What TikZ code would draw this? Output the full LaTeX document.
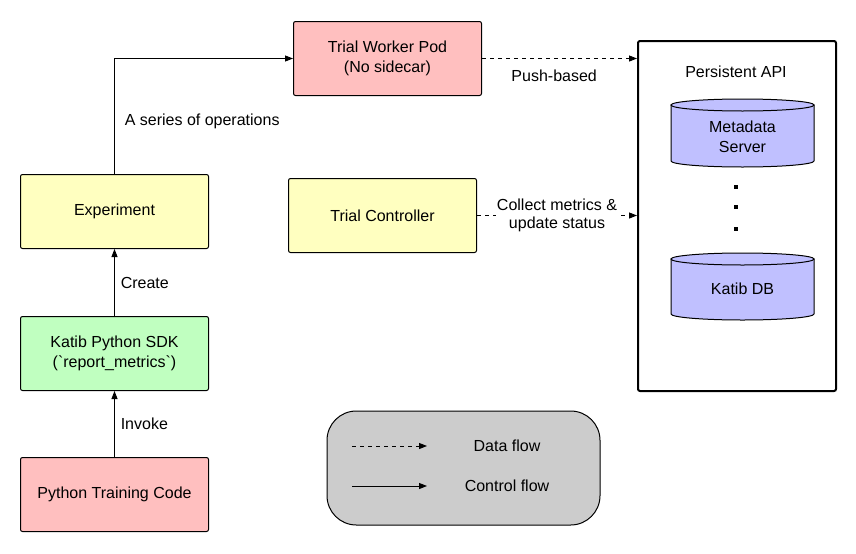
\documentclass[tikz,border=0pt]{standalone}
\usepackage{fontspec}
\setmainfont{Liberation Sans}
\usepackage{tikz}
\usetikzlibrary{arrows.meta,positioning}
\definecolor{podred}{HTML}{FFBFBF}
\definecolor{ctlyellow}{HTML}{FFFFC0}
\definecolor{sdkgreen}{HTML}{C0FFC0}
\definecolor{dbblue}{HTML}{C0C0FF}
\definecolor{legendgray}{HTML}{CCCCCC}

\begin{document}
\begin{tikzpicture}[x=0.75pt, y=-0.75pt,
		font=\fontsize{12}{15}\selectfont,
		block/.style={draw, line width=0.75pt, rounded corners=1.5pt, minimum width=141pt, minimum height=55.5pt, align=center},
		ctrl/.style={draw, line width=0.75pt, -{Triangle[length=6pt, width=4.5pt]}},
		data/.style={ctrl, dash pattern=on 3pt off 3pt},
		db/.style={draw, line width=0.75pt, fill=dbblue},
		dot/.style={fill=black, inner sep=0pt, minimum size=2.6pt}]
		\useasboundingbox (0,0) rectangle (856,553);
		% Blocks:
		\node[block, fill=podred] (pod) at (387.5, 58.5) {Trial Worker Pod\\(No sidecar)};
		\node[block, fill=ctlyellow] (exp) at (114.5, 211.5) {Experiment};
		\node[block, fill=ctlyellow] (ctl) at (382.5, 215.5) {Trial Controller};
		\node[block, fill=sdkgreen] (sdk) at (114.5, 353.5) {Katib Python SDK\\(\textasciigrave report\_metrics\textasciigrave)};
		\node[block, fill=podred] (code) at (114.5, 494.5) {Python Training Code};
		% Persistent API box:
		\node[draw, line width=1.5pt, rounded corners=1.5pt, minimum width=148.5pt, minimum height=262.5pt] (api) at (737, 216) {};
		\node (apititle) at (736, 72) {Persistent API};
		% Databases:
		\filldraw[db] (671, 105) -- (671, 161) arc[start angle=180, end angle=360, x radius=53.625pt, y radius=4.5pt] -- (814, 105) -- cycle;
		\filldraw[db] (742.5, 105) ellipse[x radius=53.625pt, y radius=4.5pt];
		\node[align=center] (meta) at (742.5, 137) {Metadata\\Server};
		\node[dot] (dot1) at (736, 187) {};
		\node[dot] (dot2) at (736, 207) {};
		\node[dot] (dot3) at (736, 229) {};
		\filldraw[db] (671, 259) -- (671, 314) arc[start angle=180, end angle=360, x radius=53.625pt, y radius=4.5pt] -- (814, 259) -- cycle;
		\filldraw[db] (742.5, 259) ellipse[x radius=53.625pt, y radius=4.5pt];
		\node (katibdb) at (742.5, 289) {Katib DB};
		% Connectors:
		\draw[ctrl] (exp.north) |- node[pos=0.23, right=4pt] {A series of operations} (pod.west);
		\draw[ctrl] (sdk.north) -- node[right=1pt] {Create} (exp.south);
		\draw[ctrl] (code.north) -- node[right=1pt] {Invoke} (sdk.south);
		\draw[data] (pod.east) -- node[below=5pt, xshift=-4pt] {Push-based} (pod.east -| api.west);
		\draw[data] (ctl.east) -- node[fill=white, inner sep=1pt, align=center, font=\fontsize{12}{13.5}\selectfont] {Collect metrics \&\\update status} (ctl.east -| api.west);
		% Legend:
		\node[draw, line width=0.75pt, fill=legendgray, rounded corners=22pt, minimum width=204.75pt, minimum height=85.5pt] (legend) at (463.5, 468) {};
		\coordinate (d1) at (352, 446);
		\coordinate (d2) at (427, 446);
		\coordinate (c1) at (352, 486);
		\coordinate (c2) at (427, 486);
		\draw[data] (d1) -- (d2);
		\draw[ctrl] (c1) -- (c2);
		\node (dflow) at (507, 446) {Data flow};
		\node (cflow) at (507, 486) {Control flow};
	\end{tikzpicture}
\end{document}
